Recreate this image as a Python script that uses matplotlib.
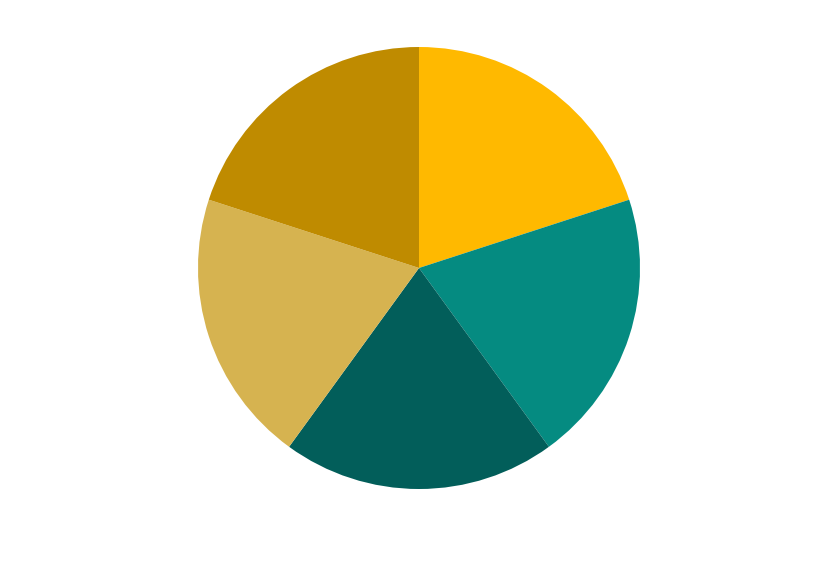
import matplotlib
matplotlib.use("Agg")
import matplotlib.pyplot as plt

categories = ["A", "B", "C", "D", "E"]
values = [1, 1, 1, 1, 1]
colors = ["#FFB900", "#058B81", "#025E5A", "#D6B350", "#BF8B00"]

fig = plt.figure(figsize=(8.4, 5.74), dpi=100)
ax = fig.add_axes([(419 - 221) / 840, (574 - 268 - 221) / 574, 442 / 840, 442 / 574])
ax.pie(values, colors=colors, startangle=90, counterclock=False, radius=1,
       wedgeprops=dict(linewidth=0))
ax.set_xlim(-1, 1)
ax.set_ylim(-1, 1)
ax.set_aspect("equal")
ax.axis("off")
fig.savefig("out.png", dpi=100)
